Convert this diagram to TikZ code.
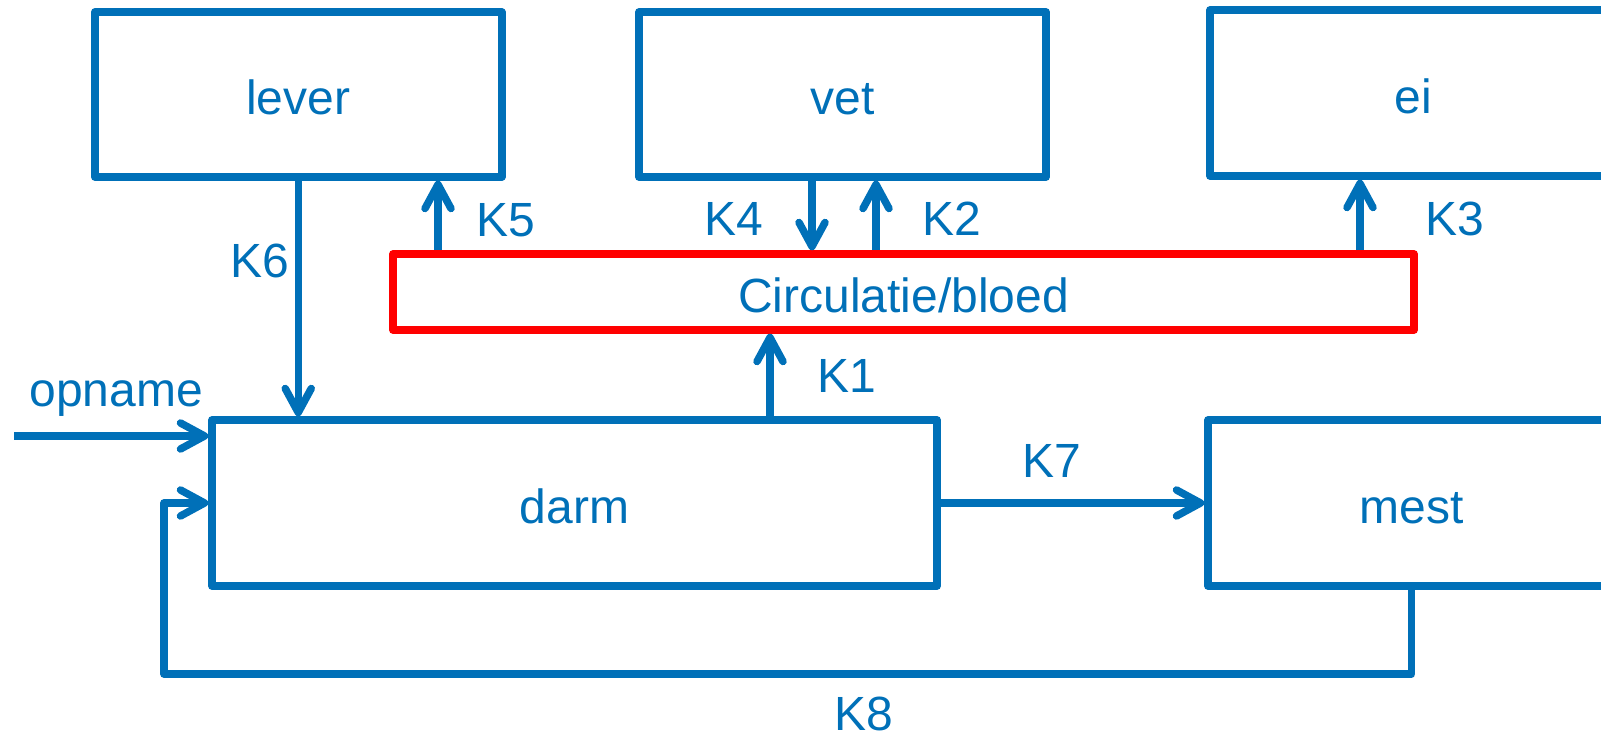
\documentclass[tikz,border=0pt]{standalone}
\usepackage{fontspec}
\setmainfont{Liberation Sans}
\usetikzlibrary{arrows.meta}
\definecolor{myblue}{RGB}{0,112,184}
\definecolor{myred}{RGB}{255,0,0}
\begin{document}
\begin{tikzpicture}[x=0.5pt,y=-0.5pt,
  lbl/.style={text=myblue,font=\fontsize{24}{29}\selectfont,inner sep=0pt,anchor=base west},
  box/.style={draw=myblue,line width=3.75pt,line join=round,inner sep=0pt,
    text=myblue,font=\fontsize{24}{29}\selectfont,text height=20.5pt,text depth=0pt,
    minimum width=203.5pt,minimum height=82.5pt},
  redbox/.style={box,draw=myred,minimum width=510.5pt,minimum height=38pt},
  widebox/.style={box,minimum width=362.5pt,minimum height=83pt},
  arr/.style={draw=myblue,line width=3.75pt,line join=round,
    -{Straight Barb[length=12pt,width=13pt,round]}}]
\useasboundingbox (0,0) rectangle (1601,738);
\clip (0,0) rectangle (1601,738);
% boxes
\node[box] (lever) at (298.25,94.5) {lever};
\node[box] (vet) at (842.5,94.5) {vet};
\node[box,minimum height=83pt] (ei) at (1413.5,93) {ei};
\node[redbox] (blood) at (903.5,292) {Circulatie/bloed};
\node[widebox] (darm) at (574.5,503) {darm};
\node[box,minimum height=83pt] (mest) at (1411.5,503) {mest};
% helper coordinates
\coordinate (x5) at (438,0);
\coordinate (x4) at (812,0);
\coordinate (x2) at (876,0);
\coordinate (x3) at (1360,0);
\coordinate (x1) at (770,0);
\coordinate (op) at (14,436);
\coordinate (k8) at (164,674);
% connectors
\draw[arr] (lever.south) -- (lever.south |- darm.north);
\draw[arr] (x5 |- blood.north) -- (x5 |- lever.south);
\draw[arr] (x4 |- vet.south) -- (x4 |- blood.north);
\draw[arr] (x2 |- blood.north) -- (x2 |- vet.south);
\draw[arr] (x3 |- blood.north) -- (x3 |- ei.south);
\draw[arr] (x1 |- darm.north) -- (x1 |- blood.south);
\draw[arr] (op) -- (op -| darm.west);
\draw[arr] (darm.east) -- (darm.east -| mest.west);
\draw[arr] (mest.south) |- (k8) |- (darm.west);
% labels
\node[lbl] (lk6) at (230,277) {K6};
\node[lbl] (lk5) at (476,236) {K5};
\node[lbl] (lk4) at (704,235) {K4};
\node[lbl] (lk2) at (922,235) {K2};
\node[lbl] (lk3) at (1425,235) {K3};
\node[lbl] (lk1) at (817,392) {K1};
\node[lbl] (lk7) at (1022,477) {K7};
\node[lbl] (lk8) at (834,730) {K8};
\node[lbl] (lop) at (29,406) {opname};
\end{tikzpicture}
\end{document}
